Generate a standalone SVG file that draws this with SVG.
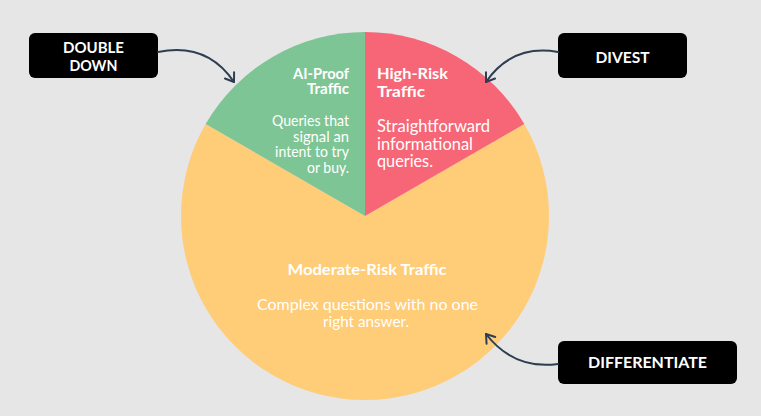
<svg xmlns="http://www.w3.org/2000/svg" width="761" height="416" viewBox="0 0 761 416">
<defs>
<style>
.t{font-family:Lato,"Open Sans",sans-serif;fill:#ffffff;}
.b{font-weight:700;}
.lab{font-family:Lato,"Open Sans",sans-serif;fill:#ffffff;font-weight:700;font-size:14.5px;text-anchor:middle;}
.box{fill:#000000;}
.conn{fill:none;stroke:#2E3E52;stroke-width:2;stroke-linecap:round;}
</style>
<marker id="ah" markerUnits="userSpaceOnUse" markerWidth="14" markerHeight="14" viewBox="0 0 14 14" refX="10" refY="7" orient="auto">
<path d="M2,1.5 L10,7 L2,12.5" fill="none" stroke="#2E3E52" stroke-width="2" stroke-linecap="round" stroke-linejoin="round"/>
</marker>
</defs>
<rect width="761" height="416" fill="#E6E6E6"/>
<g id="moderate-risk">
<path d="M365,216 L524.35,124 A184,184 0 1 1 205.65,124 Z" fill="#FFCC77"/>
<text class="t b" font-size="15.5" x="367" y="275" text-anchor="middle" textLength="159" lengthAdjust="spacingAndGlyphs">Moderate-Risk Traffic</text>
<text class="t" font-size="16" x="367.5" y="310" text-anchor="middle" textLength="221" lengthAdjust="spacingAndGlyphs">Complex questions with no one</text>
<text class="t" font-size="16" x="366" y="327" text-anchor="middle" textLength="86" lengthAdjust="spacingAndGlyphs">right answer.</text>
</g>
<g id="ai-proof">
<path d="M365,216 L205.65,124 A184,184 0 0 1 365,32 Z" fill="#7DC594"/>
<text class="t b" font-size="15" x="349" y="79" text-anchor="end" textLength="56" lengthAdjust="spacingAndGlyphs">AI-Proof</text>
<text class="t b" font-size="15" x="349" y="94" text-anchor="end" textLength="42" lengthAdjust="spacingAndGlyphs">Traffic</text>
<text class="t" font-size="15" x="349" y="126" text-anchor="end" textLength="77" lengthAdjust="spacingAndGlyphs">Queries that</text>
<text class="t" font-size="15" x="349" y="141.5" text-anchor="end" textLength="56" lengthAdjust="spacingAndGlyphs">signal an</text>
<text class="t" font-size="15" x="349" y="157" text-anchor="end" textLength="74" lengthAdjust="spacingAndGlyphs">intent to try</text>
<text class="t" font-size="15" x="349" y="172.5" text-anchor="end" textLength="42" lengthAdjust="spacingAndGlyphs">or buy.</text>
</g>
<g id="high-risk">
<path d="M365,216 L365,32 A184,184 0 0 1 524.35,124 Z" fill="#F66676"/>
<text class="t b" font-size="16" x="377" y="79" textLength="71" lengthAdjust="spacingAndGlyphs">High-Risk</text>
<text class="t b" font-size="16" x="377" y="96.5" textLength="48" lengthAdjust="spacingAndGlyphs">Traffic</text>
<text class="t" font-size="16.5" x="377" y="132" textLength="113" lengthAdjust="spacingAndGlyphs">Straightforward</text>
<text class="t" font-size="16.5" x="377" y="149.5" textLength="96" lengthAdjust="spacingAndGlyphs">informational</text>
<text class="t" font-size="16.5" x="377" y="167" textLength="56" lengthAdjust="spacingAndGlyphs">queries.</text>
</g>
<g id="double-down">
<rect class="box" x="29" y="33" width="129" height="45" rx="6"/>
<text class="lab" x="93.5" y="53" textLength="61" lengthAdjust="spacingAndGlyphs">DOUBLE</text>
<text class="lab" x="93.5" y="71" textLength="48" lengthAdjust="spacingAndGlyphs">DOWN</text>
</g>
<g id="divest">
<rect class="box" x="558" y="33" width="129" height="45" rx="6"/>
<text class="lab" x="622.5" y="63" textLength="54" lengthAdjust="spacingAndGlyphs">DIVEST</text>
</g>
<g id="differentiate">
<rect class="box" x="558" y="341" width="179" height="43" rx="6"/>
<text class="lab" x="647.5" y="368" textLength="119" lengthAdjust="spacingAndGlyphs">DIFFERENTIATE</text>
</g>
<g id="connectors">
<path class="conn" d="M158,52 Q207,42 234,82" marker-end="url(#ah)"/>
<path class="conn" d="M558,52 Q512,44 486,82" marker-end="url(#ah)"/>
<path class="conn" d="M558,364 Q514,370 486,334" marker-end="url(#ah)"/>
</g>
</svg>
